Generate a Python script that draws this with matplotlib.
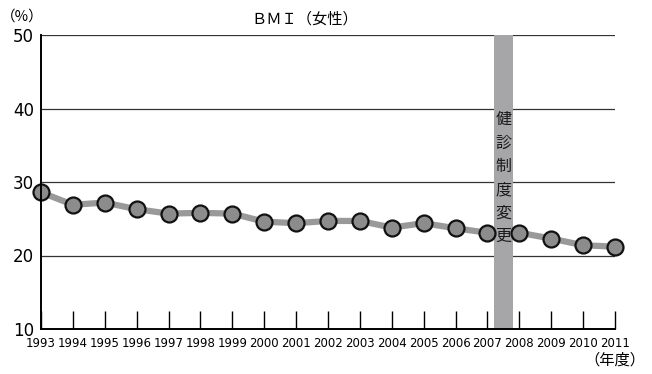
import matplotlib
matplotlib.use("Agg")
import matplotlib.pyplot as plt

years = [1993, 1994, 1995, 1996, 1997, 1998, 1999, 2000, 2001, 2002,
         2003, 2004, 2005, 2006, 2007, 2008, 2009, 2010, 2011]
bmi = [28.6, 26.9, 27.2, 26.3, 25.7, 25.8, 25.7, 24.6, 24.4, 24.7,
       24.7, 23.8, 24.4, 23.7, 23.1, 23.1, 22.3, 21.4, 21.2]
yticks = [10, 20, 30, 40, 50]
band_text = "健診制度変更"

jp = ["Noto Sans CJK JP", "DejaVu Sans"]

fig = plt.figure(figsize=(6.52, 3.74), dpi=100)
ax = fig.add_axes([41 / 652, 1 - 329 / 374, (615 - 41) / 652, (329 - 35) / 374])

ax.set_xlim(1993, 2011)
ax.set_ylim(10, 50)

for y in yticks[1:]:
    ax.axhline(y, color="#333333", lw=0.9, zorder=1)

# the band hides the line between 2007 and 2008
ax.axvspan(2007.22, 2007.8, color="#a6a6a9", zorder=4.5, lw=0)
for i, ch in enumerate(band_text):
    ax.text(2007.51, 38.45 - i * 3.18, ch, ha="center", va="center",
            fontsize=11.5, family=jp, color="#1a1a1a", zorder=6)

ax.plot(years, bmi, color="#999999", lw=4.5, zorder=4, clip_on=False,
        solid_capstyle="butt")
ax.plot(years, bmi, ls="none", marker="o", ms=11.5, mfc="#8c8c8c",
        mec="#111111", mew=1.6, zorder=5, clip_on=False)

for s in ["top", "right"]:
    ax.spines[s].set_visible(False)
ax.spines["left"].set_linewidth(1.4)
ax.spines["bottom"].set_linewidth(1.4)
ax.spines["left"].set_zorder(7)
ax.spines["bottom"].set_zorder(7)

ax.set_yticks(yticks)
ax.set_yticklabels([str(v) for v in yticks], fontsize=12)
ax.tick_params(axis="y", length=0, pad=5)
ax.set_xticks(years)
ax.set_xticklabels([str(v) for v in years], fontsize=8.5)
ax.tick_params(axis="x", direction="in", length=13, width=1.0, pad=6)

fig.text(305 / 652, 1 - 19 / 374, "ＢＭＩ（女性）", ha="center", va="center",
         fontsize=11, family=jp)
fig.text(22 / 652, 1 - 17 / 374, "（%）", ha="center", va="center",
         fontsize=10.5, family=jp)
fig.text(615 / 652, 1 - 360 / 374, "（年度）", ha="center", va="center",
         fontsize=11, family=jp)

fig.savefig("out.png", dpi=100)
